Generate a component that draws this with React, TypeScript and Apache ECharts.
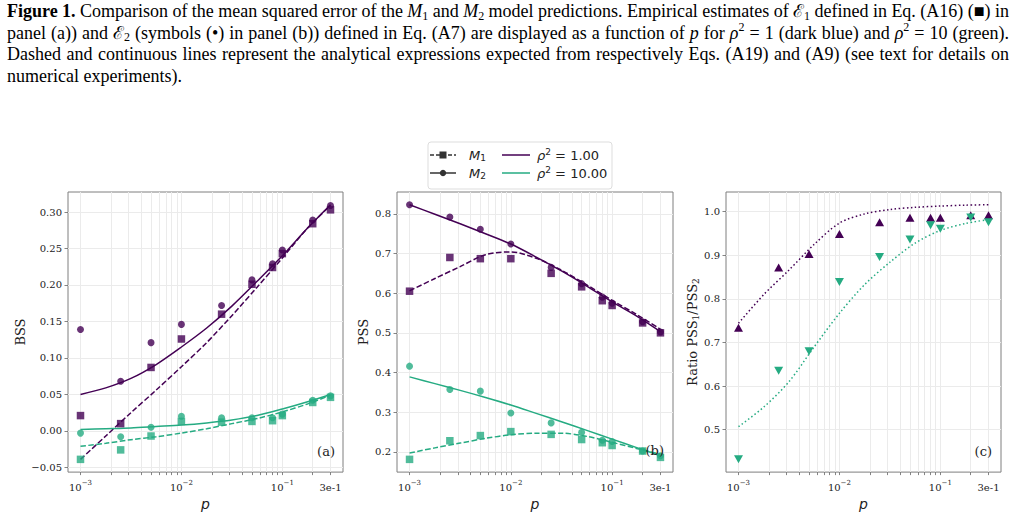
import React, { useEffect, useRef } from 'react';
import * as echarts from 'echarts';

// Sparsity levels p of the numerical experiments (all three panels)
const P_VALUES = [0.001, 0.0025, 0.005, 0.01, 0.025, 0.05, 0.08, 0.1, 0.2, 0.3];
// p values at which the analytical curves are evaluated
const THEORY_P = [0.001, 0.00178, 0.00316, 0.00562, 0.01, 0.0178, 0.0316, 0.0562, 0.1, 0.178, 0.3];

// Panel (a): BSS, empirical estimates
const BSS_M1_RHO1 = [0.021, 0.010, 0.087, 0.126, 0.160, 0.201, 0.224, 0.243, 0.284, 0.303];
const BSS_M2_RHO1 = [0.139, 0.068, 0.121, 0.146, 0.172, 0.207, 0.229, 0.248, 0.289, 0.309];
const BSS_M1_RHO10 = [-0.039, -0.026, -0.007, 0.013, 0.012, 0.013, 0.014, 0.021, 0.039, 0.046];
const BSS_M2_RHO10 = [-0.003, -0.008, 0.005, 0.020, 0.018, 0.018, 0.018, 0.023, 0.042, 0.048];
// Panel (a): BSS, analytical expressions (on THEORY_P)
const BSS_M1_RHO1_TH = [-0.039, -0.007, 0.025, 0.056, 0.088, 0.121, 0.158, 0.197, 0.237, 0.278, 0.309];
const BSS_M2_RHO1_TH = [0.050, 0.059, 0.072, 0.091, 0.115, 0.141, 0.171, 0.205, 0.240, 0.278, 0.310];
const BSS_M1_RHO10_TH = [-0.021, -0.017, -0.012, -0.008, -0.003, 0.003, 0.010, 0.017, 0.026, 0.037, 0.049];
const BSS_M2_RHO10_TH = [0.002, 0.003, 0.004, 0.006, 0.008, 0.011, 0.015, 0.021, 0.030, 0.040, 0.050];

// Panel (b): PSS, empirical estimates
const PSS_M1_RHO1 = [0.605, 0.690, 0.687, 0.687, 0.650, 0.616, 0.581, 0.569, 0.525, 0.500];
const PSS_M2_RHO1 = [0.823, 0.792, 0.761, 0.724, 0.665, 0.624, 0.590, 0.575, 0.528, 0.502];
const PSS_M1_RHO10 = [0.181, 0.228, 0.241, 0.251, 0.244, 0.231, 0.223, 0.216, 0.202, 0.186];
const PSS_M2_RHO10 = [0.416, 0.357, 0.353, 0.298, 0.273, 0.249, 0.229, 0.226, 0.202, 0.190];
// Panel (b): PSS, analytical expressions (on THEORY_P)
const PSS_M1_RHO1_TH = [0.606, 0.637, 0.667, 0.697, 0.704, 0.688, 0.658, 0.621, 0.582, 0.545, 0.509];
const PSS_M2_RHO1_TH = [0.823, 0.799, 0.775, 0.750, 0.724, 0.691, 0.656, 0.618, 0.578, 0.541, 0.503];
const PSS_M1_RHO10_TH = [0.197, 0.210, 0.222, 0.234, 0.243, 0.247, 0.247, 0.239, 0.224, 0.208, 0.194];
const PSS_M2_RHO10_TH = [0.389, 0.372, 0.355, 0.337, 0.318, 0.297, 0.276, 0.254, 0.232, 0.210, 0.190];

// Panel (c): ratio PSS1/PSS2
const RATIO_RHO1 = [0.734, 0.872, 0.903, 0.949, 0.976, 0.986, 0.986, 0.986, 0.992, 0.992];
const RATIO_RHO10 = [0.432, 0.635, 0.680, 0.839, 0.896, 0.936, 0.969, 0.961, 0.987, 0.976];
const RATIO_RHO1_TH = [0.744, 0.810, 0.866, 0.925, 0.974, 0.995, 1.005, 1.010, 1.013, 1.015, 1.016];
const RATIO_RHO10_TH = [0.507, 0.552, 0.610, 0.690, 0.767, 0.833, 0.884, 0.928, 0.957, 0.973, 0.982];

// Tick positions
const X_LABEL_TICKS = [0.001, 0.01, 0.1, 0.3];
const X_DECADES = [0.001, 0.01, 0.1];
const X_MULTIPLIERS = [1, 2, 3, 4, 5, 6, 7, 8, 9];
const Y_TICKS_A = [-0.05, 0, 0.05, 0.1, 0.15, 0.2, 0.25, 0.3];
const Y_TICKS_B = [0.2, 0.3, 0.4, 0.5, 0.6, 0.7, 0.8];
const Y_TICKS_C = [0.5, 0.6, 0.7, 0.8, 0.9, 1.0];

const PURPLE = '#440154';
const GREEN = '#25ab82';
const SERIF = "'DejaVu Serif', serif";
const SANS = "'DejaVu Sans', sans-serif";
const CAPTION_FAMILY = "'Liberation Serif', 'Times New Roman', serif";
const TEXT = '#222222';

const GRIDS = [
  { left: 68, top: 192, width: 275, height: 281 },
  { left: 397, top: 192, width: 276, height: 281 },
  { left: 726, top: 192, width: 275, height: 281 },
];

function padExtent(arrays: number[][]): [number, number] {
  const all = arrays.flat();
  const lo = Math.min(...all);
  const hi = Math.max(...all);
  const m = 0.05 * (hi - lo);
  return [lo - m, hi + m];
}

const LOG_LO = Math.log10(P_VALUES[0]);
const LOG_HI = Math.log10(P_VALUES[P_VALUES.length - 1]);
const X_MIN = Math.pow(10, LOG_LO - 0.05 * (LOG_HI - LOG_LO));
const X_MAX = Math.pow(10, LOG_HI + 0.05 * (LOG_HI - LOG_LO));
const X_GRID_TICKS = X_DECADES.flatMap((d) => X_MULTIPLIERS.map((m) => +(d * m).toPrecision(3))).filter(
  (v) => v <= X_MAX
);

const xRich = {
  n: { fontFamily: SERIF, fontSize: 10, color: TEXT, lineHeight: 18 },
  e: { fontFamily: SERIF, fontSize: 7, color: TEXT, padding: [0, 0, 9, 0] },
};

function xAxis(gi: number) {
  return {
    type: 'log',
    logBase: 10,
    gridIndex: gi,
    min: X_MIN,
    max: X_MAX,
    name: 'p',
    nameLocation: 'middle',
    nameGap: 24,
    nameTextStyle: { fontFamily: SANS, fontStyle: 'italic', fontSize: 14, color: TEXT },
    axisLine: { show: false, onZero: false },
    axisTick: { show: true, customValues: X_GRID_TICKS, length: 3, lineStyle: { color: '#666', width: 0.8 } },
    axisLabel: {
      customValues: X_LABEL_TICKS,
      margin: 6,
      formatter: (v: number) =>
        v > 0.2 ? '{n|3e-1}' : `{n|10}{e|\u2212${Math.round(-Math.log10(v))}}`,
      rich: xRich,
    },
    splitLine: { show: true, lineStyle: { color: '#ebebeb', width: 1 } },
  };
}

function yAxis(gi: number, ticks: number[], extent: [number, number], digits: number, name: string, gap: number, nameRich?: any) {
  return {
    type: 'value',
    gridIndex: gi,
    min: extent[0],
    max: extent[1],
    name,
    nameLocation: 'middle',
    nameGap: gap,
    nameTextStyle: { fontFamily: SERIF, fontSize: 13, color: TEXT, rich: nameRich },
    axisLine: { show: false, onZero: false },
    axisTick: { show: true, customValues: ticks, length: 3.5, lineStyle: { color: '#666', width: 0.8 } },
    axisLabel: {
      customValues: ticks,
      margin: 6,
      fontFamily: SERIF,
      fontSize: 10,
      color: TEXT,
      formatter: (v: number) => v.toFixed(digits).replace('-', '\u2212'),
    },
    splitLine: { show: true, lineStyle: { color: '#ebebeb', width: 1 } },
  };
}

function curve(gi: number, values: number[], color: string, dash: number[] | 'solid') {
  return {
    type: 'line',
    xAxisIndex: gi,
    yAxisIndex: gi,
    data: THEORY_P.map((p, i) => [p, values[i]]),
    symbol: 'none',
    smooth: 0.3,
    silent: true,
    z: 2,
    lineStyle: { color, width: 1.5, type: dash },
  };
}

function points(gi: number, values: number[], color: string, symbol: string, size: number | number[], opacity: number, rotate = 0) {
  return {
    type: 'scatter',
    xAxisIndex: gi,
    yAxisIndex: gi,
    data: P_VALUES.map((p, i) => [p, values[i]]),
    symbol,
    symbolSize: size,
    symbolRotate: rotate,
    silent: true,
    z: 3,
    itemStyle: { color, opacity },
  };
}

const DASH = [5.5, 2.4];
const DOT = [1.5, 2.5];

// ---- caption (justified lines of rich text) ----
const CAPTION_SIZE = 18;
const captionRich: Record<string, any> = {
  b: { fontFamily: CAPTION_FAMILY, fontSize: CAPTION_SIZE, fontWeight: 'bold', color: '#000' },
  i: { fontFamily: CAPTION_FAMILY, fontSize: CAPTION_SIZE, fontStyle: 'italic', color: '#000' },
  sb: { fontFamily: CAPTION_FAMILY, fontSize: 12, color: '#000', padding: [9, 0, 0, 0] },
  sp: { fontFamily: CAPTION_FAMILY, fontSize: 12, color: '#000', padding: [0, 0, 12, 0] },
};

const CAPTION_LINES = [
  '{b|Figure} {b|1.} Comparison of the mean squared error of the {i|M}{sb|1} and {i|M}{sb|2} model predictions. Empirical estimates of \u2130{sb|1} defined in Eq. (A16) (\u25A0) in',
  'panel (a)) and \u2130{sb|2} (symbols (\u2022) in panel (b)) defined in Eq. (A7) are displayed as a function of {i|p} for {i|\u03C1}{sp|2} = 1 (dark blue) and {i|\u03C1}{sp|2} = 10 (green).',
  'Dashed and continuous lines represent the analytical expressions expected from respectively Eqs. (A19) and (A9) (see text for details on',
  'numerical experiments).',
];
const CAPTION_Y = [11, 32.5, 54, 75.5];
const CAPTION_LEFT = 7;
const CAPTION_RIGHT = 1009;

function measureWord(ctx: CanvasRenderingContext2D, word: string): number {
  const re = /\{(\w+)\|([^}]*)\}|([^{]+)/g;
  let w = 0;
  let m: RegExpExecArray | null;
  while ((m = re.exec(word))) {
    const st = m[1] ? captionRich[m[1]] : { fontFamily: CAPTION_FAMILY, fontSize: CAPTION_SIZE };
    const txt = m[1] ? m[2] : m[3];
    ctx.font = `${st.fontStyle || 'normal'} ${st.fontWeight || 'normal'} ${st.fontSize}px ${st.fontFamily}`;
    w += ctx.measureText(txt).width;
  }
  return w;
}

function captionGraphics() {
  const g: any[] = [];
  const canvas = document.createElement('canvas');
  const ctx = canvas.getContext('2d') as CanvasRenderingContext2D;
  ctx.font = `${CAPTION_SIZE}px ${CAPTION_FAMILY}`;
  const spaceW = ctx.measureText(' ').width;
  CAPTION_LINES.forEach((line, k) => {
    const words = line.split(' ');
    const widths = words.map((w) => measureWord(ctx, w));
    const total = widths.reduce((a, b) => a + b, 0);
    const last = k === CAPTION_LINES.length - 1;
    const gap = last ? spaceW : (CAPTION_RIGHT - CAPTION_LEFT - total) / (words.length - 1);
    let x = CAPTION_LEFT;
    words.forEach((w, j) => {
      g.push({
        type: 'text',
        x,
        y: CAPTION_Y[k],
        style: {
          text: w,
          fontFamily: CAPTION_FAMILY,
          fontSize: CAPTION_SIZE,
          fill: '#000',
          verticalAlign: 'middle',
          align: 'left',
          rich: captionRich,
        },
      });
      x += widths[j] + gap;
    });
  });
  return g;
}

const legendRich = {
  i: { fontFamily: SANS, fontSize: 13, fontStyle: 'italic', color: TEXT },
  sb: { fontFamily: SANS, fontSize: 9, color: TEXT, padding: [6, 0, 0, 0] },
  sp: { fontFamily: SANS, fontSize: 9, color: TEXT, padding: [0, 0, 7, 0] },
};

function legendGraphics() {
  const g: any[] = [];
  g.push({
    type: 'rect',
    shape: { x: 428, y: 142, width: 184, height: 47, r: 3 },
    style: { fill: 'rgba(255,255,255,0.8)', stroke: '#dddddd', lineWidth: 1 },
    z: 10,
  });
  const rows = [155, 173];
  const txt = (x: number, y: number, text: string) => ({
    type: 'text',
    x,
    y,
    style: { text, rich: legendRich, verticalAlign: 'middle', fontFamily: SANS, fontSize: 13, fill: TEXT },
    z: 11,
  });
  // model handles
  g.push({ type: 'line', shape: { x1: 430, y1: rows[0], x2: 456, y2: rows[0] }, style: { stroke: '#333', lineWidth: 1.5, lineDash: [4, 2] }, z: 11 });
  g.push({ type: 'rect', shape: { x: 439.5, y: rows[0] - 3.5, width: 7, height: 7 }, style: { fill: '#333' }, z: 11 });
  g.push({ type: 'line', shape: { x1: 430, y1: rows[1], x2: 456, y2: rows[1] }, style: { stroke: '#333', lineWidth: 1.5 }, z: 11 });
  g.push({ type: 'circle', shape: { cx: 443, cy: rows[1], r: 3.2 }, style: { fill: '#333' }, z: 11 });
  g.push(txt(469, rows[0], '{i|M}{sb|1}'));
  g.push(txt(469, rows[1], '{i|M}{sb|2}'));
  // noise-level handles
  g.push({ type: 'line', shape: { x1: 502, y1: rows[0], x2: 530, y2: rows[0] }, style: { stroke: PURPLE, lineWidth: 1.5 }, z: 11 });
  g.push({ type: 'line', shape: { x1: 502, y1: rows[1], x2: 530, y2: rows[1] }, style: { stroke: GREEN, lineWidth: 1.5 }, z: 11 });
  g.push(txt(537, rows[0], '{i|\u03C1}{sp|2} = 1.00'));
  g.push(txt(537, rows[1], '{i|\u03C1}{sp|2} = 10.00'));
  return g;
}

function panelTags() {
  return [
    ['(a)', 335, 451],
    ['(b)', 664, 450],
    ['(c)', 992, 451],
  ].map(([t, x, y]) => ({
    type: 'text',
    x,
    y,
    style: { text: t, fontFamily: SERIF, fontSize: 13, fill: TEXT, align: 'right', verticalAlign: 'middle' },
    z: 20,
  }));
}

function buildOption() {
  const extA = padExtent([BSS_M1_RHO1, BSS_M2_RHO1, BSS_M1_RHO10, BSS_M2_RHO10, BSS_M1_RHO1_TH, BSS_M2_RHO1_TH, BSS_M1_RHO10_TH, BSS_M2_RHO10_TH]);
  const extB = padExtent([PSS_M1_RHO1, PSS_M2_RHO1, PSS_M1_RHO10, PSS_M2_RHO10, PSS_M1_RHO1_TH, PSS_M2_RHO1_TH, PSS_M1_RHO10_TH, PSS_M2_RHO10_TH]);
  const extC = padExtent([RATIO_RHO1, RATIO_RHO10, RATIO_RHO1_TH, RATIO_RHO10_TH]);
  const pSub = { s: { fontFamily: SERIF, fontSize: 9, color: TEXT, padding: [6, 0, 0, 0] } };
  return {
    animation: false,
    backgroundColor: '#ffffff',
    grid: GRIDS.map((gr) => ({ ...gr, show: true, borderColor: '#7f7f7f', borderWidth: 1, backgroundColor: 'transparent' })),
    xAxis: [xAxis(0), xAxis(1), xAxis(2)],
    yAxis: [
      yAxis(0, Y_TICKS_A, extA, 2, 'BSS', 41),
      yAxis(1, Y_TICKS_B, extB, 1, 'PSS', 27),
      yAxis(2, Y_TICKS_C, extC, 1, 'Ratio PSS{s|1}/PSS{s|2}', 26, pSub),
    ],
    series: [
      // (a)
      curve(0, BSS_M2_RHO1_TH, PURPLE, 'solid'),
      curve(0, BSS_M1_RHO1_TH, PURPLE, DASH),
      curve(0, BSS_M2_RHO10_TH, GREEN, 'solid'),
      curve(0, BSS_M1_RHO10_TH, GREEN, DASH),
      points(0, BSS_M2_RHO1, PURPLE, 'circle', 7, 0.8),
      points(0, BSS_M1_RHO1, PURPLE, 'rect', 7.5, 0.8),
      points(0, BSS_M2_RHO10, GREEN, 'circle', 7, 0.8),
      points(0, BSS_M1_RHO10, GREEN, 'rect', 7.5, 0.8),
      // (b)
      curve(1, PSS_M2_RHO1_TH, PURPLE, 'solid'),
      curve(1, PSS_M1_RHO1_TH, PURPLE, DASH),
      curve(1, PSS_M2_RHO10_TH, GREEN, 'solid'),
      curve(1, PSS_M1_RHO10_TH, GREEN, DASH),
      points(1, PSS_M2_RHO1, PURPLE, 'circle', 7, 0.8),
      points(1, PSS_M1_RHO1, PURPLE, 'rect', 7.5, 0.8),
      points(1, PSS_M2_RHO10, GREEN, 'circle', 7, 0.8),
      points(1, PSS_M1_RHO10, GREEN, 'rect', 7.5, 0.8),
      // (c)
      curve(2, RATIO_RHO1_TH, PURPLE, DOT),
      curve(2, RATIO_RHO10_TH, GREEN, DOT),
      points(2, RATIO_RHO1, PURPLE, 'triangle', [9, 8], 1),
      points(2, RATIO_RHO10, GREEN, 'triangle', [9, 8], 1, 180),
    ],
    graphic: [...captionGraphics(), ...legendGraphics(), ...panelTags()],
  };
}

export default function App() {
  const ref = useRef<HTMLDivElement>(null);
  useEffect(() => {
    if (!ref.current) return;
    const chart = echarts.init(ref.current, null, { renderer: 'svg' });
    chart.setOption(buildOption() as any);
    return () => chart.dispose();
  }, []);
  return (
    <div
      ref={ref}
      style={{ position: 'fixed', left: 0, top: 0, width: 1016, height: 516, background: '#fff' }}
    />
  );
}
